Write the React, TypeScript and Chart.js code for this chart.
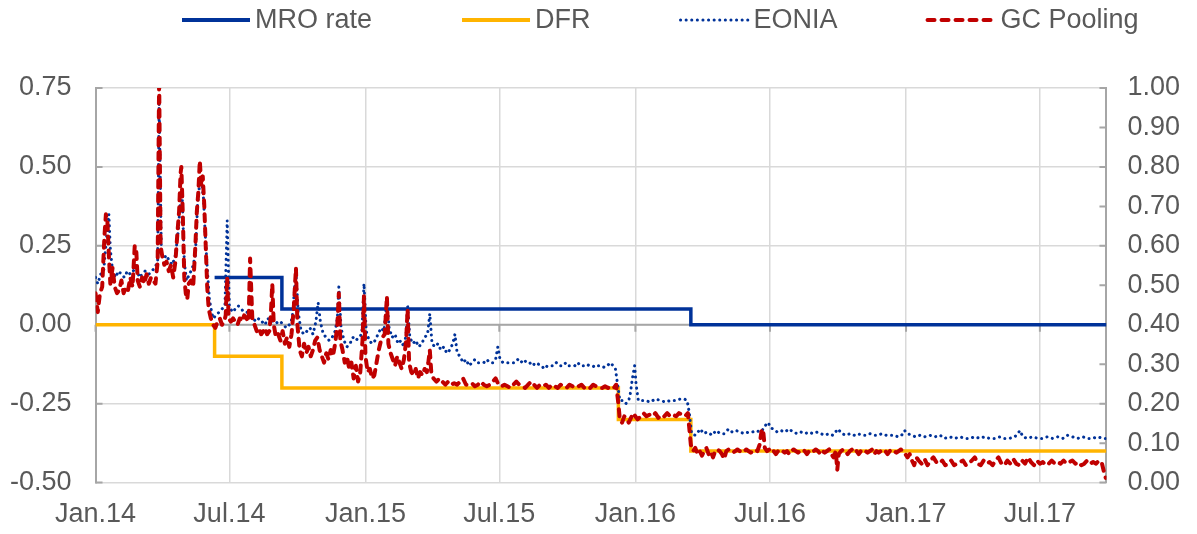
import React, { useEffect, useRef } from 'react';
import { Chart, registerables } from 'chart.js';

Chart.register(...registerables);

// ---- X axis (days since 1 Jan 2014) ----
const xTickDays = [0, 181, 365, 546, 730, 912, 1096, 1277];
const xTickLabels = ['Jan.14', 'Jul.14', 'Jan.15', 'Jul.15', 'Jan.16', 'Jul.16', 'Jan.17', 'Jul.17'];
const xMaxDay = 1367;

// ---- Policy rates (stepped) ----
const mroDays = [161, 252, 805, 1367];
const mroValues = [0.15, 0.05, 0.0, 0.0];
const dfrDays = [0, 161, 252, 707, 805, 1367];
const dfrValues = [0.0, -0.1, -0.2, -0.3, -0.4, -0.4];

// ---- EONIA ----
const eoniaDays = [
  0, 3, 7, 11, 15, 18, 20, 23, 27, 31, 35, 39, 43, 47, 51, 55, 59, 63, 67, 72, 76, 80, 84, 86, 89, 92, 96, 100,
  104, 108, 112, 115, 117, 120, 123, 127, 131, 135, 138, 140, 143, 146, 148, 151, 154, 157, 159, 163, 167, 171,
  175, 178, 181, 185, 189, 193, 197, 201, 205, 209, 213, 217, 221, 225, 229, 233, 238, 242, 246, 250, 254, 258,
  262, 266, 268, 271, 274, 278, 282, 286, 290, 294, 298, 301, 304, 308, 312, 316, 320, 324, 327, 329, 332, 336,
  340, 344, 348, 352, 356, 360, 363, 366, 370, 374, 378, 382, 386, 390, 394, 397, 401, 405, 409, 413, 417, 420,
  422, 425, 429, 433, 437, 441, 445, 449, 452, 455, 459, 463, 467, 471, 475, 479, 483, 486, 489, 493, 497, 501,
  505, 509, 513, 517, 521, 525, 529, 533, 537, 541, 544, 547, 551, 555, 559, 563, 567, 571, 575, 579, 583, 587,
  591, 595, 599, 603, 607, 611, 615, 619, 623, 628, 632, 636, 640, 644, 648, 652, 656, 660, 664, 668, 672, 676,
  680, 684, 688, 692, 696, 700, 703, 706, 709, 713, 717, 721, 723, 726, 729, 731, 734, 738, 744, 750, 757, 764,
  771, 777, 784, 791, 796, 800, 803, 806, 811, 818, 822, 827, 834, 839, 845, 850, 856, 861, 866, 872, 877, 883,
  888, 893, 899, 903, 907, 910, 912, 916, 922, 927, 932, 938, 943, 949, 954, 959, 965, 970, 976, 981, 986, 992,
  997, 1004, 1009, 1015, 1020, 1026, 1031, 1036, 1042, 1047, 1053, 1058, 1063, 1069, 1074, 1080, 1085, 1090,
  1094, 1098, 1104, 1109, 1115, 1121, 1128, 1135, 1142, 1148, 1155, 1162, 1169, 1175, 1182, 1189, 1196, 1202,
  1209, 1216, 1223, 1229, 1236, 1243, 1247, 1250, 1254, 1260, 1267, 1274, 1281, 1287, 1294, 1301, 1308, 1314,
  1321, 1328, 1335, 1341, 1348, 1355, 1362, 1366,
];
const eoniaValues = [
  0.15, 0.13, 0.16, 0.17, 0.28, 0.35, 0.24, 0.17, 0.15, 0.17, 0.16, 0.15, 0.17, 0.16, 0.17, 0.19, 0.15, 0.16, 0.17,
  0.16, 0.17, 0.18, 0.2, 0.7, 0.23, 0.21, 0.22, 0.2, 0.19, 0.22, 0.3, 0.4, 0.42, 0.2, 0.14, 0.16, 0.18, 0.22, 0.38,
  0.43, 0.46, 0.4, 0.3, 0.18, 0.08, 0.04, 0.02, 0.03, 0.04, 0.05, 0.06, 0.33, 0.06, 0.04, 0.05, 0.06, 0.05, 0.04,
  0.04, 0.03, 0.02, 0.01, 0.02, 0.01, 0.0, 0.02, 0.01, 0.015, 0.005, 0.01, 0.0, -0.01, 0.0, 0.02, 0.08, 0.17,
  0.04, -0.02, -0.03, -0.02, -0.01, -0.03, 0.01, 0.07, 0.01, -0.03, -0.04, -0.05, -0.04, -0.02, 0.02, 0.12,
  -0.01, -0.05, -0.07, -0.06, -0.04, -0.05, -0.04, -0.03, 0.13, -0.02, -0.05, -0.06, -0.05, -0.03, -0.01, -0.02,
  0.08, -0.01, -0.04, -0.03, -0.06, -0.05, -0.07, -0.03, 0.06, -0.04, -0.06, -0.05, -0.07, -0.06, -0.04, -0.03,
  0.035, -0.06, -0.07, -0.06, -0.08, -0.07, -0.09, -0.08, -0.06, -0.03, -0.09, -0.1, -0.12, -0.11, -0.13, -0.12,
  -0.11, -0.12, -0.12, -0.12, -0.11, -0.12, -0.12, -0.11, -0.07, -0.11, -0.12, -0.12, -0.12, -0.12, -0.12, -0.11,
  -0.12, -0.11, -0.12, -0.12, -0.13, -0.12, -0.125, -0.13, -0.14, -0.13, -0.13, -0.13, -0.12, -0.13, -0.13, -0.12,
  -0.13, -0.13, -0.13, -0.12, -0.13, -0.13, -0.125, -0.13, -0.13, -0.135, -0.13, -0.13, -0.135, -0.13, -0.12,
  -0.13, -0.14, -0.19, -0.24, -0.24, -0.25, -0.24, -0.22, -0.17, -0.13, -0.19, -0.24, -0.24, -0.24, -0.245,
  -0.235, -0.24, -0.245, -0.24, -0.24, -0.235, -0.235, -0.24, -0.28, -0.345, -0.35, -0.33, -0.345, -0.34, -0.35,
  -0.335, -0.345, -0.345, -0.33, -0.34, -0.335, -0.34, -0.345, -0.34, -0.34, -0.335, -0.34, -0.33, -0.315, -0.31,
  -0.325, -0.33, -0.34, -0.335, -0.34, -0.33, -0.34, -0.345, -0.34, -0.345, -0.34, -0.345, -0.34, -0.345, -0.35,
  -0.345, -0.35, -0.33, -0.345, -0.35, -0.345, -0.35, -0.345, -0.35, -0.35, -0.345, -0.35, -0.35, -0.345, -0.35,
  -0.35, -0.35, -0.355, -0.35, -0.335, -0.345, -0.35, -0.355, -0.35, -0.355, -0.35, -0.355, -0.35, -0.36, -0.355,
  -0.36, -0.355, -0.36, -0.36, -0.355, -0.36, -0.355, -0.36, -0.36, -0.355, -0.36, -0.36, -0.355, -0.345, -0.335,
  -0.355, -0.36, -0.355, -0.36, -0.36, -0.355, -0.36, -0.355, -0.36, -0.35, -0.355, -0.36, -0.355, -0.36, -0.36,
  -0.355, -0.36, -0.36,
];

// ---- GC Pooling ----
const gcDays = [
  0, 3, 6, 9, 12, 14, 16, 18, 20, 23, 26, 29, 32, 35, 38, 41, 44, 47, 50, 53, 55, 57, 60, 63, 66, 69, 72, 75, 78,
  81, 84, 86, 88, 90, 93, 96, 99, 102, 105, 108, 111, 113, 115, 116, 118, 120, 122, 124, 126, 129, 132, 135, 137,
  139, 141, 143, 145, 147, 149, 151, 153, 156, 159, 162, 165, 168, 171, 174, 176, 178, 180, 183, 186, 189, 192,
  195, 198, 201, 204, 207, 209, 212, 215, 218, 221, 224, 227, 229, 232, 235, 237, 239, 241, 244, 247, 250, 253,
  256, 259, 262, 265, 268, 271, 273, 276, 279, 282, 285, 288, 291, 294, 297, 300, 303, 306, 309, 312, 315, 318,
  321, 324, 327, 329, 331, 334, 337, 340, 343, 346, 349, 352, 355, 358, 361, 363, 365, 368, 371, 374, 377, 380,
  383, 386, 388, 391, 394, 396, 399, 402, 405, 408, 411, 414, 417, 420, 422, 424, 427, 430, 433, 436, 439, 442,
  445, 448, 450, 452, 454, 457, 461, 465, 469, 473, 477, 481, 485, 489, 493, 497, 501, 505, 509, 513, 517, 521,
  525, 529, 533, 537, 541, 545, 549, 553, 557, 561, 565, 569, 573, 577, 581, 585, 589, 593, 597, 601, 605, 609,
  613, 617, 621, 625, 629, 633, 637, 641, 645, 649, 653, 657, 661, 665, 669, 673, 677, 681, 685, 689, 693, 697,
  701, 704, 707, 709, 712, 715, 718, 721, 724, 727, 730, 733, 737, 741, 745, 749, 753, 757, 761, 765, 769, 773,
  777, 781, 785, 789, 793, 797, 801, 803, 805, 808, 811, 814, 817, 820, 823, 826, 829, 832, 835, 838, 841, 844,
  847, 850, 853, 856, 859, 862, 865, 868, 871, 874, 877, 880, 883, 886, 889, 892, 895, 898, 901, 903, 905, 908,
  911, 914, 917, 920, 923, 926, 929, 932, 935, 938, 941, 944, 947, 950, 953, 956, 959, 962, 965, 968, 971, 974,
  977, 980, 983, 986, 989, 992, 995, 998, 1001, 1003, 1005, 1008, 1011, 1014, 1017, 1020, 1023, 1026, 1029, 1032,
  1035, 1038, 1041, 1044, 1047, 1050, 1053, 1056, 1059, 1062, 1065, 1068, 1071, 1074, 1077, 1080, 1083, 1086,
  1089, 1092, 1095, 1098, 1101, 1104, 1107, 1110, 1113, 1117, 1121, 1125, 1129, 1133, 1137, 1141, 1145, 1149,
  1153, 1157, 1161, 1165, 1169, 1173, 1177, 1181, 1185, 1189, 1193, 1197, 1201, 1205, 1209, 1213, 1217, 1221,
  1225, 1229, 1233, 1237, 1241, 1245, 1249, 1253, 1257, 1261, 1265, 1269, 1273, 1277, 1281, 1285, 1289, 1293,
  1297, 1301, 1305, 1309, 1313, 1317, 1321, 1325, 1329, 1333, 1337, 1341, 1345, 1349, 1353, 1357, 1361, 1364, 1366,
];
const gcValues = [
  0.1, 0.04, 0.1, 0.12, 0.28, 0.35, 0.33, 0.22, 0.13, 0.18, 0.12, 0.1, 0.11, 0.14, 0.1, 0.12, 0.11, 0.15, 0.12,
  0.25, 0.24, 0.14, 0.12, 0.15, 0.13, 0.16, 0.13, 0.15, 0.14, 0.13, 0.2, 0.78, 0.25, 0.22, 0.19, 0.2, 0.17, 0.19,
  0.15, 0.2, 0.3, 0.36, 0.48, 0.5, 0.35, 0.15, 0.1, 0.08, 0.13, 0.14, 0.12, 0.25, 0.36, 0.42, 0.52, 0.44, 0.47,
  0.38, 0.25, 0.12, 0.05, 0.02, 0.0, -0.01, 0.01, 0.02, 0.0, 0.01, 0.03, 0.15, 0.02, 0.01, 0.02, 0.01, 0.0, 0.02,
  0.01, 0.03, 0.02, 0.01, 0.21, 0.02, 0.0, -0.02, -0.01, -0.03, -0.02, -0.01, -0.03, -0.02, 0.03, 0.13, 0.0,
  -0.04, -0.03, -0.05, -0.02, -0.06, -0.04, -0.07, -0.03, 0.05, 0.18, 0.0, -0.08, -0.1, -0.06, -0.09, -0.07, -0.1,
  -0.08, -0.05, -0.04, -0.08, -0.1, -0.12, -0.09, -0.11, -0.08, -0.1, -0.06, 0.0, 0.1, -0.05, -0.08, -0.12, -0.1,
  -0.14, -0.12, -0.17, -0.13, -0.18, -0.15, -0.05, 0.09, -0.1, -0.15, -0.14, -0.17, -0.16, -0.12, -0.08, -0.05,
  -0.04, -0.03, 0.09, -0.06, -0.09, -0.11, -0.13, -0.1, -0.12, -0.14, -0.11, -0.05, 0.05, -0.12, -0.15, -0.16,
  -0.14, -0.17, -0.15, -0.16, -0.14, -0.15, -0.12, -0.08, -0.15, -0.17, -0.18, -0.17, -0.18, -0.19, -0.18, -0.19,
  -0.185, -0.19, -0.18, -0.17, -0.19, -0.19, -0.185, -0.195, -0.19, -0.18, -0.19, -0.195, -0.19, -0.18, -0.17,
  -0.19, -0.195, -0.19, -0.195, -0.2, -0.19, -0.18, -0.19, -0.195, -0.2, -0.19, -0.18, -0.19, -0.2, -0.19, -0.195,
  -0.19, -0.2, -0.19, -0.195, -0.2, -0.19, -0.195, -0.2, -0.19, -0.195, -0.2, -0.195, -0.19, -0.2, -0.195, -0.2,
  -0.19, -0.195, -0.2, -0.2, -0.195, -0.2, -0.195, -0.2, -0.19, -0.25, -0.3, -0.31, -0.29, -0.3, -0.31, -0.295,
  -0.28, -0.29, -0.3, -0.29, -0.28, -0.29, -0.285, -0.29, -0.28, -0.295, -0.285, -0.29, -0.28, -0.29, -0.285,
  -0.29, -0.28, -0.285, -0.29, -0.28, -0.33, -0.38, -0.4, -0.39, -0.41, -0.4, -0.415, -0.4, -0.39, -0.41, -0.4,
  -0.42, -0.4, -0.395, -0.4, -0.41, -0.425, -0.4, -0.395, -0.4, -0.405, -0.4, -0.395, -0.4, -0.405, -0.4, -0.395,
  -0.4, -0.405, -0.4, -0.395, -0.4, -0.38, -0.33, -0.34, -0.39, -0.4, -0.395, -0.405, -0.4, -0.41, -0.4, -0.395,
  -0.4, -0.405, -0.4, -0.41, -0.4, -0.395, -0.4, -0.405, -0.4, -0.395, -0.4, -0.41, -0.4, -0.405, -0.4, -0.395,
  -0.4, -0.41, -0.4, -0.405, -0.4, -0.395, -0.41, -0.42, -0.4, -0.46, -0.41, -0.4, -0.395, -0.4, -0.41, -0.4,
  -0.395, -0.405, -0.4, -0.41, -0.4, -0.395, -0.4, -0.405, -0.4, -0.395, -0.41, -0.4, -0.405, -0.4, -0.395, -0.4,
  -0.41, -0.4, -0.395, -0.4, -0.405, -0.4, -0.395, -0.4, -0.41, -0.42, -0.41, -0.43, -0.445, -0.42, -0.43, -0.44,
  -0.425, -0.445, -0.43, -0.42, -0.435, -0.44, -0.43, -0.445, -0.44, -0.43, -0.445, -0.44, -0.435, -0.43, -0.445,
  -0.44, -0.43, -0.42, -0.44, -0.445, -0.43, -0.44, -0.435, -0.445, -0.43, -0.42, -0.44, -0.445, -0.43, -0.44,
  -0.425, -0.44, -0.445, -0.43, -0.44, -0.42, -0.435, -0.445, -0.43, -0.44, -0.435, -0.445, -0.44, -0.43, -0.44,
  -0.435, -0.44, -0.43, -0.44, -0.435, -0.43, -0.44, -0.435, -0.445, -0.44, -0.43, -0.44, -0.435, -0.44, -0.43,
  -0.44, -0.47, -0.485,
];

const FONT = '"Liberation Sans", Arial, Helvetica, sans-serif';
const FONT_SIZE = 27;
const TEXT_COLOR = '#595959';
const GRID_COLOR = '#D9D9D9';
const AXIS_COLOR = '#A6A6A6';

function toPoints(days: number[], values: number[]) {
  return days.map((d, i) => ({ x: d, y: values[i] }));
}

const axisDecor = {
  id: 'axisDecor',
  beforeDatasetsDraw(chart: any) {
    const { ctx, chartArea: a, scales } = chart;
    const xs = scales.x;
    const ys = scales.y;
    const ys2 = scales.y2;
    ctx.save();
    ctx.strokeStyle = AXIS_COLOR;
    ctx.lineWidth = 2;
    const y0 = ys.getPixelForValue(0);
    ctx.beginPath();
    ctx.moveTo(a.left, y0);
    ctx.lineTo(a.right, y0);
    xs.ticks.forEach((t: any) => {
      const px = xs.getPixelForValue(t.value);
      ctx.moveTo(px, y0);
      ctx.lineTo(px, y0 + 7);
    });
    ys.ticks.forEach((t: any) => {
      const py = ys.getPixelForValue(t.value);
      ctx.moveTo(a.left, py);
      ctx.lineTo(a.left + 7, py);
    });
    ys2.ticks.forEach((t: any) => {
      const py = ys2.getPixelForValue(t.value);
      ctx.moveTo(a.right - 7, py);
      ctx.lineTo(a.right, py);
    });
    ctx.stroke();
    ctx.restore();
  },
};

const customLegend = {
  id: 'customLegend',
  afterDraw(chart: any) {
    const ctx = chart.ctx;
    ctx.save();
    ctx.font = FONT_SIZE + 'px ' + FONT;
    ctx.textBaseline = 'middle';
    ctx.textAlign = 'left';
    let x = 182;
    const y = 20;
    chart.data.datasets.forEach((ds: any) => {
      ctx.beginPath();
      ctx.setLineDash(ds.borderDash || []);
      ctx.lineCap = ds.borderCapStyle || 'butt';
      ctx.lineWidth = ds.legendWidth || ds.borderWidth;
      ctx.strokeStyle = ds.borderColor;
      ctx.moveTo(x, y);
      ctx.lineTo(x + 68, y);
      ctx.stroke();
      x += 68 + 5;
      ctx.setLineDash([]);
      ctx.fillStyle = TEXT_COLOR;
      ctx.fillText(ds.label, x, y + 1);
      x += ctx.measureText(ds.label).width + 90;
    });
    ctx.restore();
  },
};

export default function App() {
  const canvasRef = useRef<HTMLCanvasElement | null>(null);

  useEffect(() => {
    const canvas = canvasRef.current;
    if (!canvas) return;
    const tickFont = { family: FONT, size: FONT_SIZE };
    const chart = new Chart(canvas, {
      type: 'line',
      data: {
        datasets: [
          {
            label: 'MRO rate',
            data: toPoints(mroDays, mroValues),
            borderColor: '#003299',
            borderWidth: 3.5,
            legendWidth: 4,
            stepped: 'before',
            pointRadius: 0,
            order: 4,
          } as any,
          {
            label: 'DFR',
            data: toPoints(dfrDays, dfrValues),
            borderColor: '#FFB400',
            borderWidth: 3.5,
            legendWidth: 4,
            stepped: 'before',
            pointRadius: 0,
            order: 3,
          } as any,
          {
            label: 'EONIA',
            data: toPoints(eoniaDays, eoniaValues),
            borderColor: '#003299',
            borderWidth: 3,
            borderDash: [0.1, 5.5],
            borderCapStyle: 'round',
            borderJoinStyle: 'round',
            pointRadius: 0,
            order: 2,
          } as any,
          {
            label: 'GC Pooling',
            data: toPoints(gcDays, gcValues),
            borderColor: '#C00000',
            borderWidth: 4,
            borderDash: [7, 7],
            borderCapStyle: 'round',
            borderJoinStyle: 'round',
            pointRadius: 0,
            order: 1,
          } as any,
        ],
      },
      options: {
        animation: false,
        responsive: false,
        events: [],
        layout: { padding: { top: 88, left: 6, right: 14, bottom: 0 } },
        plugins: {
          legend: { display: false },
          tooltip: { enabled: false },
        },
        elements: { line: { tension: 0 }, point: { radius: 0 } },
        scales: {
          x: {
            type: 'linear',
            min: 0,
            max: xMaxDay,
            afterBuildTicks: (scale: any) => {
              scale.ticks = xTickDays.map((v) => ({ value: v }));
            },
            ticks: {
              autoSkip: false,
              maxRotation: 0,
              padding: 3,
              color: TEXT_COLOR,
              font: tickFont,
              callback: (v: any) => {
                const i = xTickDays.indexOf(Number(v));
                return i >= 0 ? xTickLabels[i] : '';
              },
            },
            grid: { color: GRID_COLOR, lineWidth: 1.5, drawTicks: true, tickLength: 13, tickColor: 'rgba(0,0,0,0)' },
            border: { display: false },
          },
          y: {
            position: 'left',
            min: -0.5,
            max: 0.75,
            ticks: {
              stepSize: 0.25,
              padding: 4,
              color: TEXT_COLOR,
              font: tickFont,
              callback: (v: any) => Number(v).toFixed(2),
            },
            grid: { color: GRID_COLOR, lineWidth: 1.5, drawTicks: true, tickLength: 20, tickColor: 'rgba(0,0,0,0)' },
            border: { color: AXIS_COLOR, width: 2 },
          },
          y2: {
            position: 'right',
            min: 0,
            max: 1,
            ticks: {
              stepSize: 0.1,
              padding: 3,
              color: TEXT_COLOR,
              font: tickFont,
              callback: (v: any) => Number(v).toFixed(2),
            },
            grid: { drawOnChartArea: false, drawTicks: true, tickLength: 18, tickColor: 'rgba(0,0,0,0)' },
            border: { color: AXIS_COLOR, width: 2 },
          },
        },
      } as any,
      plugins: [axisDecor, customLegend],
    });
    return () => {
      chart.destroy();
    };
  }, []);

  return (
    <div style={{ position: 'fixed', left: 0, top: 0, width: 1197, height: 534, background: '#ffffff' }}>
      <canvas ref={canvasRef} width={1197} height={534} style={{ display: 'block' }} />
    </div>
  );
}
